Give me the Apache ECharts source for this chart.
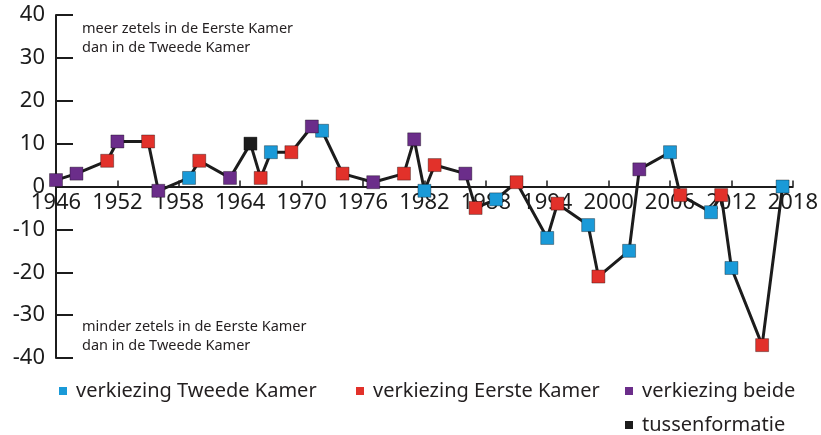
<!DOCTYPE html>
<html>
<head>
<meta charset="utf-8">
<script src="https://cdn.jsdelivr.net/npm/echarts@6/dist/echarts.min.js"></script>
<style>
html,body{margin:0;padding:0;background:#fff;}
#chart{width:821px;height:435px;}
</style>
</head>
<body>
<div id="chart"></div>
<script>
// Data
const years = [1946,1948,1951,1952,1955,1956,1959,1960,1963,1965,1966,1967,1969,1971,1972,1974,1977,1980,1981,1982,1983,1986,1987,1989,1991,1994,1995,1998,1999,2002,2003,2006,2007,2010,2011,2012,2015,2017];
const values = [1.5,3,6,10.5,10.5,-1,2,6,2,10,2,8,8,14,13,3,1,3,11,-1,5,3,-5,-3,1,-12,-4,-9,-21,-15,4,8,-2,-6,-2,-19,-37,0];
const types = ['B','B','EK','B','EK','B','TK','EK','B','T','EK','TK','EK','B','TK','EK','B','EK','B','TK','EK','B','EK','TK','EK','TK','EK','TK','EK','TK','B','TK','EK','TK','EK','TK','EK','TK'];
const xTicks = [1946,1952,1958,1964,1970,1976,1982,1988,1994,2000,2006,2012,2018];
const yTicks = [-40,-30,-20,-10,0,10,20,30,40];
const categories = [
  {key:'TK', name:'verkiezing Tweede Kamer', color:'#1a9ad8'},
  {key:'EK', name:'verkiezing Eerste Kamer', color:'#e2312a'},
  {key:'B',  name:'verkiezing beide', color:'#6b2d8a'},
  {key:'T',  name:'tussenformatie', color:'#1c1c1c'}
];

const FONT = 'Noto Sans';
const TXT = '#231f20';
const chart = echarts.init(document.getElementById('chart'));

const GRID = {left:56, right:27, top:15, bottom:77};
const gridH = 435 - GRID.top - GRID.bottom;
const Y_MIN = -40, Y_MAX = 40;
// distance from grid bottom to the zero line
const zeroOffset = -gridH * (0 - Y_MIN) / (Y_MAX - Y_MIN);

const scatterSeries = categories.map(c => ({
  type:'scatter',
  name:c.name,
  symbol:'rect',
  symbolSize:13,
  z:5,
  itemStyle:{color:c.color, borderColor:'rgba(0,0,0,0.35)', borderWidth:1, opacity:1},
  data: years.map((y,i)=>types[i]===c.key?[y,values[i]]:null).filter(d=>d)
}));

const legendPos = [
  {left:59, top:381},
  {left:356, top:381},
  {left:625, top:381},
  {left:625, top:415}
];

const option = {
  animation:false,
  backgroundColor:'#fff',
  grid:Object.assign({containLabel:false}, GRID),
  xAxis:{
    type:'value', min:1946, max:2018,
    position:'bottom', offset:zeroOffset,
    axisLine:{onZero:false, lineStyle:{color:'#1c1c1c', width:2}},
    axisTick:{inside:true, length:6, lineStyle:{color:'#1c1c1c', width:1.5}, customValues:xTicks},
    axisLabel:{customValues:xTicks, fontSize:22, color:'#1c1c1c', fontFamily:FONT, margin:5, formatter:v=>String(v)},
    splitLine:{show:false}
  },
  yAxis:{
    type:'value', min:Y_MIN, max:Y_MAX,
    axisLine:{show:true, onZero:false, lineStyle:{color:'#1c1c1c', width:2}},
    axisTick:{show:true, inside:true, length:17, lineStyle:{color:'#1c1c1c', width:2}, customValues:yTicks},
    axisLabel:{customValues:yTicks, fontSize:22, color:'#1c1c1c', fontFamily:FONT, margin:11},
    splitLine:{show:false}
  },
  legend: categories.map((c,i)=>({
    data:[{name:c.name, icon:'rect', itemStyle:{color:c.color, borderWidth:0}}],
    left:legendPos[i].left, top:legendPos[i].top,
    itemWidth:8, itemHeight:8, padding:0,
    selectedMode:false,
    textStyle:{fontSize:20, color:TXT, fontFamily:FONT, padding:[0,0,0,4]}
  })),
  graphic:[
    {type:'text', left:82, top:19, style:{text:'meer zetels in de Eerste Kamer\ndan in de Tweede Kamer', fontSize:14.5, lineHeight:19, fill:TXT, fontFamily:FONT}},
    {type:'text', left:82, top:317, style:{text:'minder zetels in de Eerste Kamer\ndan in de Tweede Kamer', fontSize:14.5, lineHeight:19, fill:TXT, fontFamily:FONT}}
  ],
  series:[
    {
      type:'line', name:'lijn', showSymbol:false, z:3,
      lineStyle:{color:'#1c1c1c', width:3},
      data: years.map((y,i)=>[y,values[i]])
    },
    ...scatterSeries
  ]
};
chart.setOption(option);
</script>
</body>
</html>
